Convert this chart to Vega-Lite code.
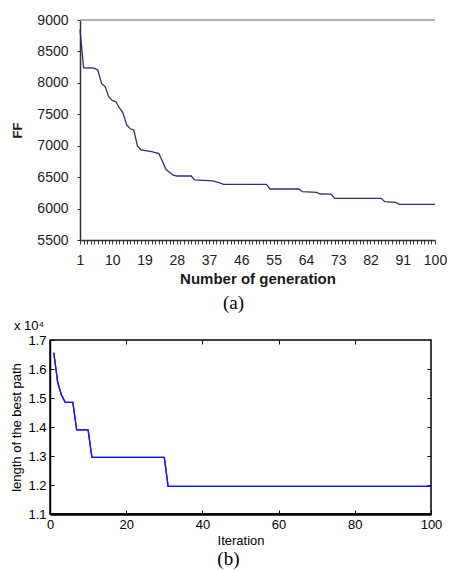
{
  "$schema": "https://vega.github.io/schema/vega-lite/v6.json",
  "padding": {"left": 10, "top": 13, "right": 5, "bottom": 2},
  "background": "white",
  "config": {"font": "Liberation Sans", "view": {"stroke": null}, "axis": {"grid": false}},
  "datasets": {
    "ga": [
      {"gen": 1, "ff": 8850}, {"gen": 2, "ff": 8240}, {"gen": 5, "ff": 8235}, {"gen": 6, "ff": 8200},
      {"gen": 7, "ff": 7990}, {"gen": 8, "ff": 7940}, {"gen": 9, "ff": 7780}, {"gen": 10, "ff": 7720},
      {"gen": 11, "ff": 7700}, {"gen": 12, "ff": 7600}, {"gen": 13, "ff": 7520}, {"gen": 14, "ff": 7330},
      {"gen": 15, "ff": 7270}, {"gen": 16, "ff": 7250}, {"gen": 17, "ff": 7000}, {"gen": 18, "ff": 6935},
      {"gen": 21, "ff": 6905}, {"gen": 23, "ff": 6875}, {"gen": 25, "ff": 6620}, {"gen": 27, "ff": 6530},
      {"gen": 28, "ff": 6518}, {"gen": 32, "ff": 6518}, {"gen": 33, "ff": 6455}, {"gen": 38, "ff": 6440},
      {"gen": 40, "ff": 6410}, {"gen": 41, "ff": 6386}, {"gen": 53, "ff": 6386}, {"gen": 54, "ff": 6311},
      {"gen": 62, "ff": 6311}, {"gen": 63, "ff": 6268}, {"gen": 67, "ff": 6258}, {"gen": 68, "ff": 6232},
      {"gen": 71, "ff": 6230}, {"gen": 72, "ff": 6163}, {"gen": 85, "ff": 6163}, {"gen": 86, "ff": 6110},
      {"gen": 89, "ff": 6100}, {"gen": 90, "ff": 6068}, {"gen": 100, "ff": 6068}
    ],
    "path": [
      {"iter": 1, "len": 16560}, {"iter": 2, "len": 15550}, {"iter": 3, "len": 15100}, {"iter": 4, "len": 14850},
      {"iter": 6, "len": 14850}, {"iter": 7, "len": 13900}, {"iter": 10, "len": 13900}, {"iter": 11, "len": 12950},
      {"iter": 30, "len": 12950}, {"iter": 31, "len": 11950}, {"iter": 100, "len": 11950}
    ]
  },
  "spacing": 6,
  "title": {"text": "(b)", "orient": "bottom", "font": "Liberation Serif", "fontSize": 19, "fontWeight": "normal", "color": "black", "anchor": "middle", "offset": 2},
  "vconcat": [
    {
      "width": 385,
      "height": 220,
      "title": {"text": "(a)", "orient": "bottom", "font": "Liberation Serif", "fontSize": 19, "fontWeight": "normal", "color": "black", "anchor": "middle", "dx": -9, "offset": 8},
      "layer": [
        {
          "data": {"name": "ga"},
          "mark": {"type": "line", "color": "#30306e", "strokeWidth": 1.3},
          "encoding": {
            "x": {
              "field": "gen", "type": "quantitative",
              "scale": {"domain": [1, 100], "range": [30, 385], "nice": false, "zero": false},
              "axis": {
                "title": "Number of generation", "titleFontSize": 15, "titleFontWeight": "bold", "titleColor": "#1a1a1a", "titlePadding": 4,
                "values": [1,2,3,4,5,6,7,8,9,10,11,12,13,14,15,16,17,18,19,20,21,22,23,24,25,26,27,28,29,30,31,32,33,34,35,36,37,38,39,40,41,42,43,44,45,46,47,48,49,50,51,52,53,54,55,56,57,58,59,60,61,62,63,64,65,66,67,68,69,70,71,72,73,74,75,76,77,78,79,80,81,82,83,84,85,86,87,88,89,90,91,92,93,94,95,96,97,98,99,100],
                "labelExpr": "(datum.value - 1) % 9 == 0 ? datum.label : ''",
                "labelOverlap": false, "labelFlush": false, "labelAngle": 0, "labelBound": false,
                "labelFontSize": 14, "labelColor": "#222", "labelPadding": 9,
                "ticks": true, "tickSize": 4, "tickColor": "#333", "tickWidth": 1, "domainColor": "#333", "domainWidth": 1.5
              }
            },
            "y": {
              "field": "ff", "type": "quantitative",
              "scale": {"domain": [5500, 9000], "nice": false, "zero": false},
              "axis": {
                "title": "FF", "titleFontSize": 13, "titleFontWeight": "bold", "titleColor": "#1a1a1a", "titlePadding": 12,
                "values": [5500, 6000, 6500, 7000, 7500, 8000, 8500, 9000],
                "format": "d", "offset": -30, "labelOverlap": false, "labelFlush": false,
                "labelFontSize": 14, "labelColor": "#222", "labelPadding": 9,
                "tickSize": 3, "tickColor": "#333", "domainColor": "#333", "domainWidth": 1.5
              }
            }
          }
        },
        {
          "data": {"values": [{}]},
          "mark": {"type": "rule", "color": "#9a9a9a", "strokeWidth": 1.5},
          "encoding": {
            "x": {
              "datum": 1, "type": "quantitative",
              "axis": {
                "title": "Number of generation", "titleFontSize": 15, "titleFontWeight": "bold", "titleColor": "#1a1a1a", "titlePadding": 4,
                "values": [1,2,3,4,5,6,7,8,9,10,11,12,13,14,15,16,17,18,19,20,21,22,23,24,25,26,27,28,29,30,31,32,33,34,35,36,37,38,39,40,41,42,43,44,45,46,47,48,49,50,51,52,53,54,55,56,57,58,59,60,61,62,63,64,65,66,67,68,69,70,71,72,73,74,75,76,77,78,79,80,81,82,83,84,85,86,87,88,89,90,91,92,93,94,95,96,97,98,99,100],
                "labelExpr": "(datum.value - 1) % 9 == 0 ? datum.label : ''",
                "labelOverlap": false, "labelFlush": false, "labelAngle": 0, "labelBound": false,
                "labelFontSize": 14, "labelColor": "#222", "labelPadding": 9,
                "ticks": true, "tickSize": 4, "tickColor": "#333", "tickWidth": 1, "domainColor": "#333", "domainWidth": 1.5
              }
            },
            "x2": {"datum": 100},
            "y": {
              "datum": 9000, "type": "quantitative",
              "axis": {
                "title": "FF", "titleFontSize": 13, "titleFontWeight": "bold", "titleColor": "#1a1a1a", "titlePadding": 12,
                "values": [5500, 6000, 6500, 7000, 7500, 8000, 8500, 9000],
                "format": "d", "offset": -30, "labelOverlap": false, "labelFlush": false,
                "labelFontSize": 14, "labelColor": "#222", "labelPadding": 9,
                "tickSize": 3, "tickColor": "#333", "domainColor": "#333", "domainWidth": 1.5
              }
            }
          }
        }
      ]
    },
    {
      "width": 381,
      "height": 174,
      "view": {"stroke": "black", "strokeWidth": 1.5},
      "title": {"text": "x 10⁴", "orient": "top", "anchor": "start", "fontSize": 13, "fontWeight": "normal", "color": "black", "offset": 1, "dx": 3},
      "data": {"name": "path"},
      "resolve": {"axis": {"x": "independent", "y": "independent"}},
      "layer": [
        {
          "mark": {"type": "line", "color": "#1414ff", "strokeWidth": 1.3},
          "encoding": {
            "x": {
              "field": "iter", "type": "quantitative",
              "scale": {"domain": [0, 100], "nice": false},
              "axis": {
                "title": "Iteration", "titleFontSize": 13, "titleFontWeight": "normal", "titleColor": "black", "titlePadding": 3,
                "values": [0, 20, 40, 60, 80, 100], "labelFlush": false,
                "labelFontSize": 13, "labelColor": "black", "labelPadding": 8,
                "tickSize": -4, "tickColor": "black", "domainColor": "black", "domainWidth": 2.5
              }
            },
            "y": {
              "field": "len", "type": "quantitative",
              "scale": {"domain": [11000, 17000], "nice": false, "zero": false},
              "axis": {
                "title": "length of the best path", "titleFontSize": 13, "titleFontWeight": "normal", "titleColor": "black", "titlePadding": 4,
                "values": [11000, 12000, 13000, 14000, 15000, 16000, 17000],
                "labelExpr": "format(datum.value / 10000, '.1f')",
                "labelFontSize": 13, "labelColor": "black", "labelPadding": 8, "labelFlush": false,
                "tickSize": -4, "tickColor": "black", "domainColor": "black", "domainWidth": 1.5
              }
            }
          }
        },
        {
          "mark": {"type": "line", "color": "#1414ff", "strokeWidth": 1.3},
          "encoding": {
            "x": {
              "field": "iter", "type": "quantitative",
              "axis": {"orient": "top", "title": null, "labels": false, "domain": false, "values": [20, 40, 60, 80], "tickSize": -4, "tickColor": "black"}
            },
            "y": {
              "field": "len", "type": "quantitative",
              "axis": {"orient": "right", "title": null, "labels": false, "domain": false, "values": [12000, 13000, 14000, 15000, 16000], "tickSize": -4, "tickColor": "black"}
            }
          }
        }
      ]
    }
  ]
}
